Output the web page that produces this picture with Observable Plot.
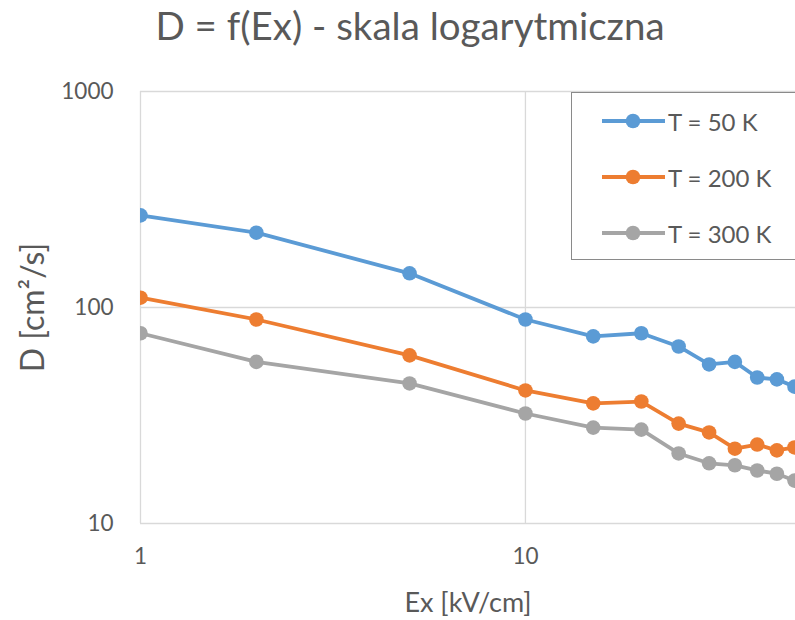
<!DOCTYPE html>
<html>
<head>
<meta charset="utf-8">
<script src="https://cdn.jsdelivr.net/npm/d3@7"></script>
<script src="https://cdn.jsdelivr.net/npm/@observablehq/plot@0.6"></script>
<style>
  html, body { margin: 0; padding: 0; background: #fff; overflow: hidden; }
  #wrap { position: relative; width: 795px; height: 620px; overflow: hidden; background: #fff; }
  #title { height: 60px; line-height: 50px; width: 820px; text-align: center;
           font-family: Lato, "Open Sans", sans-serif; font-size: 38.5px; color: #595959; white-space: nowrap; }
  #legend { position: absolute; left: 571px; top: 92px; width: 260px; height: 168px;
            border: 1.5px solid #8a8a8a; background: #fff; box-sizing: border-box;
            font-family: Lato, "Open Sans", sans-serif; font-size: 24px; color: #595959; }
  .row { position: absolute; left: 30px; height: 20px; display: flex; align-items: center; white-space: nowrap; }
  .row svg { display: block; margin-right: 3px; }
</style>
</head>
<body>
<div id="wrap">
  <div id="title">D = f(Ex) - skala logarytmiczna</div>
  <div id="chart"></div>
  <div id="legend"></div>
</div>
<script>
// ---- data ----
const ex = [1, 2, 5, 10, 15, 20, 25, 30, 35, 40, 45, 50];
const d50  = [267, 222, 144, 88, 73.5, 76, 66, 54.5, 56, 47.4, 46.5, 43];
const d200 = [111, 88, 60, 41.3, 36, 36.7, 29, 26.4, 22.2, 23.2, 21.8, 22.5];
const d300 = [76, 56, 44.5, 32.3, 27.8, 27.2, 21.1, 19, 18.6, 17.6, 17, 15.8];
const seriesNames = ["T = 50 K", "T = 200 K", "T = 300 K"];
const seriesColors = ["#5B9BD5", "#ED7D31", "#A5A5A5"];
const xTicks = [1, 10];
const yTicks = [10, 100, 1000];
const xTitle = "Ex [kV/cm]";
const yTitle = "D [cm²/s]";

const seriesValues = [d50, d200, d300];
const rows = [];
seriesNames.forEach((name, i) => {
  ex.forEach((x, j) => rows.push({series: name, ex: x, d: seriesValues[i][j]}));
});

const chart = Plot.plot({
  width: 795,
  height: 560,
  marginLeft: 140,
  marginRight: 0,
  marginTop: 31,
  marginBottom: 97,
  style: {fontFamily: "Lato, 'Open Sans', sans-serif", fontSize: "22.5px", color: "#595959", background: "#fff", overflow: "hidden"},
  x: {type: "log", domain: [1, 50.3]},
  y: {type: "log", domain: [10, 1000]},
  color: {domain: seriesNames, range: seriesColors},
  marks: [
    Plot.gridX(xTicks, {stroke: "#d9d9d9", strokeOpacity: 1, strokeWidth: 1.3}),
    Plot.gridY(yTicks, {stroke: "#d9d9d9", strokeOpacity: 1, strokeWidth: 1.3}),
    Plot.axisX(xTicks, {tickSize: 0, tickPadding: 25, tickFormat: d => String(d), label: null}),
    Plot.axisY(yTicks, {tickSize: 0, tickPadding: 27, tickFormat: d => String(d), label: null}),
    Plot.line(rows, {x: "ex", y: "d", z: "series", stroke: "series", strokeWidth: 3.8, clip: true}),
    Plot.dot(rows, {x: "ex", y: "d", fill: "series", r: 7.3, clip: true}),
    Plot.text([xTitle], {frameAnchor: "bottom", textAnchor: "middle", lineAnchor: "middle", dy: 80, fontSize: 27, fill: "#595959"}),
    Plot.text([yTitle], {frameAnchor: "left", textAnchor: "middle", lineAnchor: "middle", dx: -107, rotate: -90, fontSize: 32, fill: "#595959"})
  ]
});
document.getElementById("chart").appendChild(chart);

// legend
const legend = document.getElementById("legend");
const rowTops = [18, 74, 130];
seriesNames.forEach((name, i) => {
  const r = document.createElement("div");
  r.className = "row";
  r.style.top = rowTops[i] + "px";
  r.innerHTML = `<svg width="63" height="20"><line x1="0" x2="63" y1="10" y2="10" stroke="${seriesColors[i]}" stroke-width="3.8"/><circle cx="31" cy="10" r="7.3" fill="${seriesColors[i]}"/></svg><span>${name}</span>`;
  legend.appendChild(r);
});
</script>
</body>
</html>
